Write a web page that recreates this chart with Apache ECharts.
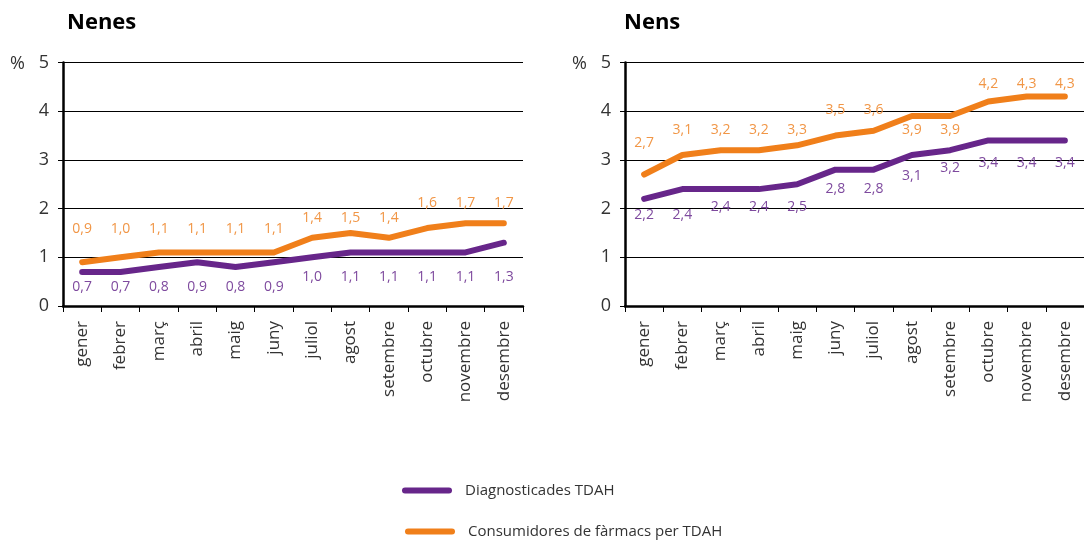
<!DOCTYPE html>
<html>
<head>
<meta charset="utf-8">
<script src="https://cdn.jsdelivr.net/npm/echarts@6/dist/echarts.min.js"></script>
<style>
  html, body { margin: 0; padding: 0; background: #fff; }
  #chart { width: 1084px; height: 540px; }
</style>
</head>
<body>
<div id="chart"></div>
<script>
// Monthly prevalence (%) of ADHD diagnoses and ADHD drug consumers, girls vs boys
const months = ['gener', 'febrer', 'març', 'abril', 'maig', 'juny', 'juliol', 'agost', 'setembre', 'octubre', 'novembre', 'desembre'];
const yTicks = [0, 1, 2, 3, 4, 5];

const nenesDiagnosticades = [0.7, 0.7, 0.8, 0.9, 0.8, 0.9, 1.0, 1.1, 1.1, 1.1, 1.1, 1.3];
const nenesConsumidores   = [0.9, 1.0, 1.1, 1.1, 1.1, 1.1, 1.4, 1.5, 1.4, 1.6, 1.7, 1.7];
const nensDiagnosticades  = [2.2, 2.4, 2.4, 2.4, 2.5, 2.8, 2.8, 3.1, 3.2, 3.4, 3.4, 3.4];
const nensConsumidores    = [2.7, 3.1, 3.2, 3.2, 3.3, 3.5, 3.6, 3.9, 3.9, 4.2, 4.3, 4.3];

const NAME_DIAG = 'Diagnosticades TDAH';
const NAME_CONS = 'Consumidores de fàrmacs per TDAH';

// Layout
const FONT = '"Open Sans", "Noto Sans", sans-serif';
const PURPLE = '#67268A';
const ORANGE = '#F07F1A';
const PURPLE_LABEL = '#7E4A9E';
const ORANGE_LABEL = '#F19646';
const GRID_TOP = 62.5, GRID_H = 243.5, GRID_W = 460;
const PX_PER_UNIT = GRID_H / (yTicks[yTicks.length - 1] - yTicks[0]);

// Value labels sit in rows (given in axis units) rather than hugging the line
const labelRows = {
  nenesDiag: [0.38, 0.38, 0.38, 0.38, 0.38, 0.38, 0.6, 0.6, 0.6, 0.6, 0.6, 0.6],
  nenesCons: [1.59, 1.59, 1.59, 1.59, 1.59, 1.59, 1.8, 1.8, 1.8, 2.12, 2.12, 2.12],
  nensDiag:  [1.87, 1.87, 2.03, 2.03, 2.03, 2.4, 2.4, 2.67, 2.83, 2.94, 2.94, 2.94],
  nensCons:  [3.35, 3.61, 3.61, 3.61, 3.61, 4.02, 4.02, 3.61, 3.61, 4.56, 4.56, 4.56]
};

const fmt = v => v.toFixed(1).replace('.', ',');

function buildData(values, rows) {
  return values.map((v, i) => ({
    value: v,
    label: { offset: [0, (v - rows[i]) * PX_PER_UNIT] }
  }));
}

function lineSeries(name, values, rows, axisIdx, color, labelColor) {
  return {
    name: name,
    type: 'line',
    xAxisIndex: axisIdx,
    yAxisIndex: axisIdx,
    data: buildData(values, rows),
    symbol: 'circle',
    symbolSize: 2,
    showSymbol: true,
    itemStyle: { color: color },
    lineStyle: { color: color, width: 6, cap: 'round', join: 'round' },
    label: {
      show: true,
      position: 'inside',
      color: labelColor,
      fontFamily: FONT,
      fontSize: 14,
      formatter: p => fmt(p.value)
    },
    emphasis: { disabled: true },
    animation: false,
    z: 3
  };
}

function xAxis(gridIndex) {
  return {
    type: 'category',
    gridIndex: gridIndex,
    data: months,
    boundaryGap: true,
    axisLine: { show: true, lineStyle: { color: '#000', width: 2.5 } },
    axisTick: { show: true, length: 6, lineStyle: { color: '#000', width: 1 } },
    axisLabel: {
      rotate: 90,
      margin: 15,
      color: '#333',
      fontFamily: FONT,
      fontSize: 17,
      interval: 0
    },
    splitLine: { show: false }
  };
}

function yAxis(gridIndex) {
  return {
    type: 'value',
    gridIndex: gridIndex,
    min: yTicks[0],
    max: yTicks[yTicks.length - 1],
    interval: 1,
    axisLine: { show: true, lineStyle: { color: '#000', width: 2.5 } },
    axisTick: { show: true, length: 5, lineStyle: { color: '#000', width: 1 } },
    axisLabel: {
      margin: 14,
      color: '#333',
      fontFamily: FONT,
      fontSize: 18
    },
    splitLine: { show: true, lineStyle: { color: '#000', width: 1 } }
  };
}

const legendIcon = 'path://M3,0 L47,0 A3,3 0 0 1 47,6 L3,6 A3,3 0 0 1 3,0 Z';
const legendText = { fontFamily: FONT, fontSize: 15, color: '#333', padding: [0, 0, 0, 8] };

const option = {
  backgroundColor: '#fff',
  animation: false,
  title: [
    { text: 'Nenes', left: 67, top: 12, padding: 0, textStyle: { fontFamily: FONT, fontSize: 22, fontWeight: 'bold', color: '#000' } },
    { text: 'Nens', left: 624, top: 12, padding: 0, textStyle: { fontFamily: FONT, fontSize: 22, fontWeight: 'bold', color: '#000' } }
  ],
  grid: [
    { left: 63, top: GRID_TOP, width: GRID_W, height: GRID_H },
    { left: 625, top: GRID_TOP, width: GRID_W, height: GRID_H }
  ],
  xAxis: [xAxis(0), xAxis(1)],
  yAxis: [yAxis(0), yAxis(1)],
  legend: [
    {
      data: [NAME_DIAG], left: 402, top: 483, padding: 0, itemWidth: 50, itemHeight: 6, icon: legendIcon,
      selectedMode: false, textStyle: legendText
    },
    {
      data: [NAME_CONS], left: 405, top: 524, padding: 0, itemWidth: 50, itemHeight: 6, icon: legendIcon,
      selectedMode: false, textStyle: legendText
    }
  ],
  graphic: [
    { type: 'text', left: 10, top: 55, style: { text: '%', fontFamily: FONT, fontSize: 18, fill: '#333' } },
    { type: 'text', left: 572, top: 55, style: { text: '%', fontFamily: FONT, fontSize: 18, fill: '#333' } }
  ],
  series: [
    lineSeries(NAME_DIAG, nenesDiagnosticades, labelRows.nenesDiag, 0, PURPLE, PURPLE_LABEL),
    lineSeries(NAME_CONS, nenesConsumidores, labelRows.nenesCons, 0, ORANGE, ORANGE_LABEL),
    lineSeries(NAME_DIAG, nensDiagnosticades, labelRows.nensDiag, 1, PURPLE, PURPLE_LABEL),
    lineSeries(NAME_CONS, nensConsumidores, labelRows.nensCons, 1, ORANGE, ORANGE_LABEL)
  ]
};

const chart = echarts.init(document.getElementById('chart'), null, { renderer: 'canvas' });
chart.setOption(option);
</script>
</body>
</html>
